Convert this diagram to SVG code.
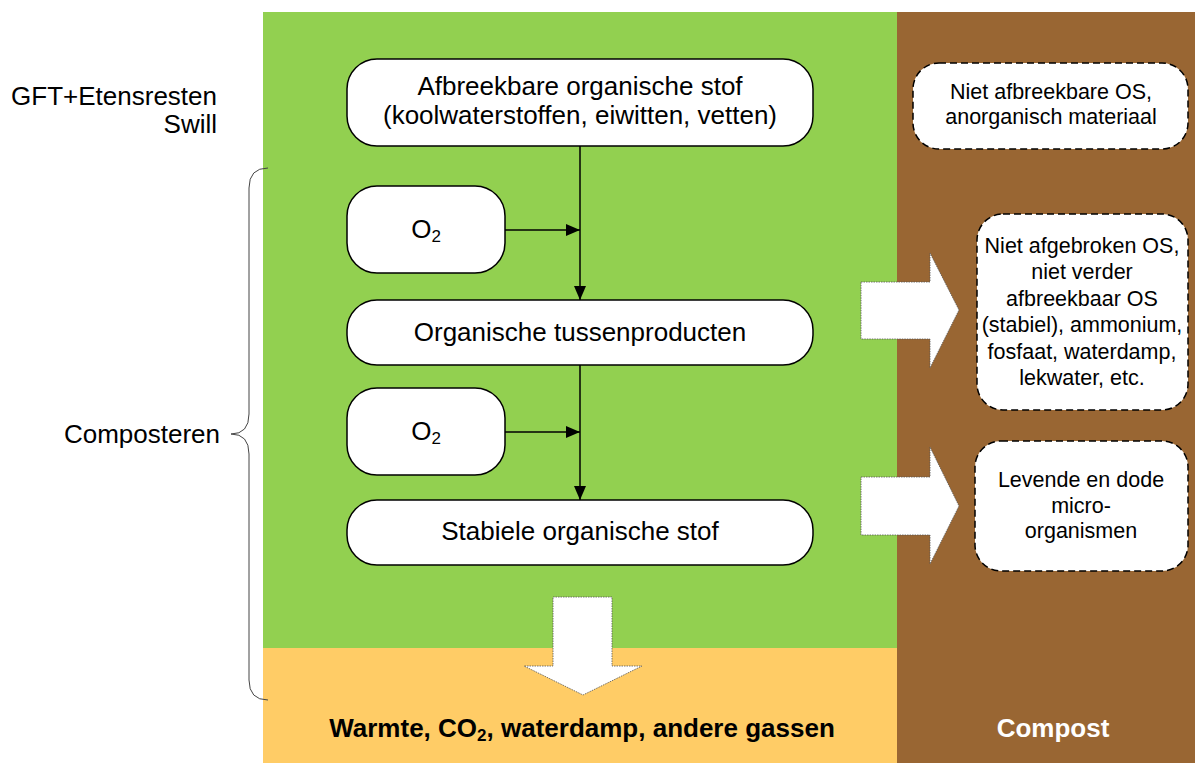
<svg xmlns="http://www.w3.org/2000/svg" width="1195" height="763" viewBox="0 0 1195 763">
<defs>
<style>
.t{font-family:"Liberation Sans",Arial,sans-serif;font-size:26px;fill:#000;text-anchor:middle}
.s{font-family:"Liberation Sans",Arial,sans-serif;font-size:21.5px;fill:#000;text-anchor:middle}
.b{font-family:"Liberation Sans",Arial,sans-serif;font-size:26px;font-weight:bold;text-anchor:middle}
.box{fill:#fff;stroke:#000;stroke-width:1.5}
.dbox{fill:#fff;stroke:#000;stroke-width:1.5;stroke-dasharray:7,4}
.blk{fill:#fff;stroke:#555;stroke-width:0.8;stroke-dasharray:1.5,1}
.ln{stroke:#000;stroke-width:1.5;fill:none}
</style>
<marker id="ah" viewBox="0 0 14 12" refX="14" refY="6" markerWidth="14" markerHeight="12" markerUnits="userSpaceOnUse" orient="auto">
<path d="M0,0 L14,6 L0,12 Z" fill="#000"/>
</marker>
</defs>
<rect x="0" y="0" width="1195" height="763" fill="#fff"/>
<g id="backgrounds">
<rect x="263" y="12" width="634" height="636" fill="#92D050"/>
<rect x="263" y="648" width="634" height="115" fill="#FFCC66"/>
<rect x="897" y="12" width="298" height="751" fill="#996633"/>
</g>
<g id="labels-left">
<text class="t" x="217" y="105" style="text-anchor:end">GFT+Etensresten</text>
<text class="t" x="217" y="133" style="text-anchor:end">Swill</text>
<text class="t" x="220" y="443" style="text-anchor:end">Composteren</text>
<path d="M268,168 Q249,168 249,188 L249,414 Q249,434 231,434 Q249,434 249,454 L249,680 Q249,700 268,700" fill="none" stroke="#444" stroke-width="1"/>
</g>
<g id="connectors">
<line class="ln" x1="580" y1="146" x2="580" y2="300" marker-end="url(#ah)"/>
<line class="ln" x1="505" y1="230" x2="580" y2="230" marker-end="url(#ah)"/>
<line class="ln" x1="580" y1="365" x2="580" y2="500" marker-end="url(#ah)"/>
<line class="ln" x1="505" y1="432" x2="580" y2="432" marker-end="url(#ah)"/>
<path class="blk" d="M553,597 L612,597 L612,666 L642,666 L583,695 L524,666 L553,666 Z"/>
<path class="blk" d="M861,282 L930,282 L930,253 L959,310 L930,368 L930,339 L861,339 Z"/>
<path class="blk" d="M861,477 L930,477 L930,447 L959,506 L930,564 L930,535 L861,535 Z"/>
</g>
<g id="node-afbreekbaar">
<rect class="box" x="347" y="59" width="466" height="87" rx="30" ry="30"/>
<text class="t" x="580" y="95">Afbreekbare organische stof</text>
<text class="t" x="580" y="124">(koolwaterstoffen, eiwitten, vetten)</text>
</g>
<g id="node-o2-1">
<rect class="box" x="347" y="186" width="158" height="87" rx="30" ry="30"/>
<text class="t" x="426" y="238">O<tspan font-size="17" dy="4">2</tspan></text>
</g>
<g id="node-tussenproducten">
<rect class="box" x="347" y="300" width="466" height="65" rx="30" ry="30"/>
<text class="t" x="580" y="341">Organische tussenproducten</text>
</g>
<g id="node-o2-2">
<rect class="box" x="347" y="388" width="158" height="87" rx="30" ry="30"/>
<text class="t" x="426" y="440">O<tspan font-size="17" dy="4">2</tspan></text>
</g>
<g id="node-stabiel">
<rect class="box" x="347" y="500" width="466" height="65" rx="30" ry="30"/>
<text class="t" x="580" y="540">Stabiele organische stof</text>
</g>
<g id="node-niet-afbreekbaar">
<rect class="dbox" x="913" y="63" width="275" height="86" rx="26" ry="26"/>
<text class="s" x="1051" y="99">Niet afbreekbare OS,</text>
<text class="s" x="1051" y="124">anorganisch materiaal</text>
</g>
<g id="node-niet-afgebroken">
<rect class="dbox" x="977" y="214" width="211" height="196" rx="26" ry="26"/>
<text class="s" x="1082" y="253">Niet afgebroken OS,</text>
<text class="s" x="1082" y="279">niet verder</text>
<text class="s" x="1082" y="306">afbreekbaar OS</text>
<text class="s" x="1082" y="332">(stabiel), ammonium,</text>
<text class="s" x="1082" y="359">fosfaat, waterdamp,</text>
<text class="s" x="1082" y="385">lekwater, etc.</text>
</g>
<g id="node-micro">
<rect class="dbox" x="975" y="441" width="213" height="130" rx="26" ry="26"/>
<text class="s" x="1081" y="487">Levende en dode</text>
<text class="s" x="1081" y="513">micro-</text>
<text class="s" x="1081" y="538">organismen</text>
</g>
<g id="node-gassen">
<text class="b" x="582" y="737" fill="#000">Warmte, CO<tspan font-size="17" dy="4">2</tspan><tspan dy="-4">, waterdamp, andere gassen</tspan></text>
</g>
<g id="node-compost">
<text class="b" x="1053" y="737" fill="#fff">Compost</text>
</g>
</svg>
